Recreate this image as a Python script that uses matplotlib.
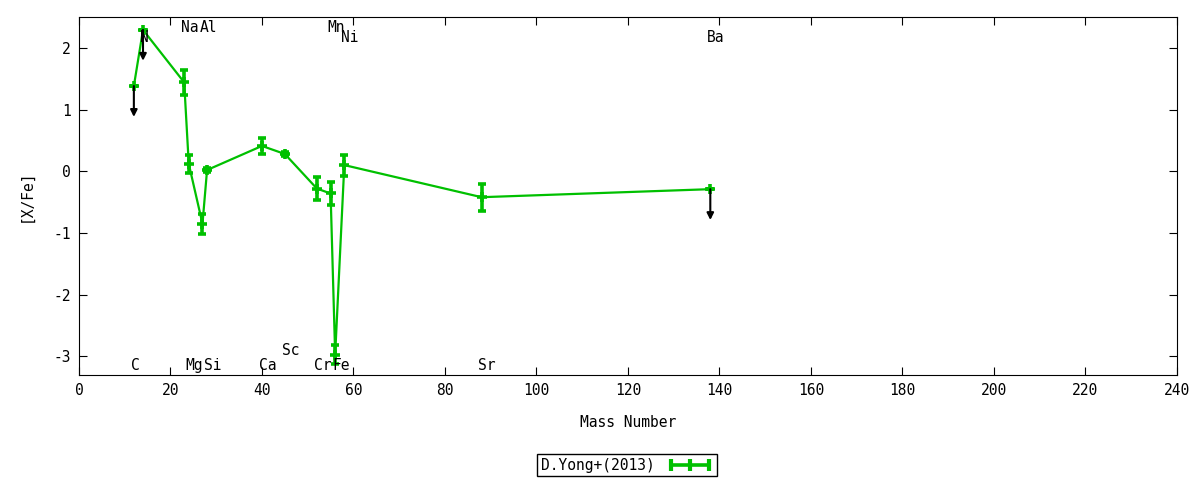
import matplotlib
matplotlib.use("Agg")
import matplotlib.pyplot as plt
from matplotlib.lines import Line2D

plt.rcParams["font.family"] = ["DejaVu Sans Mono"]
plt.rcParams["font.size"] = 10.5
plt.rcParams["axes.unicode_minus"] = False

# Abundances vs. mass number
elements = ["C", "N", "Na", "Mg", "Al", "Si", "Ca", "Sc", "Cr", "Mn", "Fe", "Ni", "Sr", "Ba"]
mass = [12, 14, 23, 24, 27, 28, 40, 45, 52, 55, 56, 58, 88, 138]
x_fe = [1.38, 2.29, 1.44, 0.12, -0.85, 0.02, 0.41, 0.28, -0.28, -0.36, -2.97, 0.10, -0.42, -0.29]
err = [0.0, 0.0, 0.2, 0.15, 0.16, 0.04, 0.13, 0.04, 0.19, 0.19, 0.15, 0.17, 0.22, 0.0]
upper_limit = ["C", "N", "Ba"]

# element labels: top or bottom of the panel
label_y = [-3.14, 2.16, 2.33, -3.14, 2.33, -3.14, -3.14, -2.91, -3.14, 2.33, -3.14, 2.16, -3.14, 2.16]

green = "#00c000"

fig = plt.figure(figsize=(12, 4.8), dpi=100)
ax = fig.add_axes([0.0658, 0.21875, 0.915, 0.746])

ax.errorbar(mass, x_fe, yerr=err, color=green, lw=1.6, marker="+", ms=7.5,
            mew=2.6, elinewidth=2.6, capsize=3.2, capthick=2.6)

# upper limits drawn as arrows
for el, m, v in zip(elements, mass, x_fe):
    if el in upper_limit:
        ax.annotate("", xy=(m, v - 0.5), xytext=(m, v),
                    arrowprops=dict(arrowstyle="-|>", color="black", lw=1.5,
                                    mutation_scale=10, shrinkA=0, shrinkB=0))

for el, m, ly in zip(elements, mass, label_y):
    ax.text(m - 0.7, ly, el, ha="left", va="center")

ax.set_xlim(0, 240)
ax.set_ylim(-3.3, 2.5)
ax.set_xticks(range(0, 241, 20))
ax.set_yticks([-3, -2, -1, 0, 1, 2])
ax.tick_params(direction="in", top=True, right=True, length=6, pad=6)
ax.set_xlabel("Mass Number", labelpad=12)
ax.set_ylabel("[X/Fe]", labelpad=14)

# gnuplot-like legend sample: line with bars at ends and middle
sample = Line2D([], [], color=green, lw=2.6, marker="|", ms=8, mew=3)
leg = fig.legend([sample], ["D.Yong+(2013)"], loc="center",
                 bbox_to_anchor=(0.5225, 0.031), markerfirst=False, numpoints=3,
                 fancybox=False, edgecolor="black", framealpha=1,
                 handlelength=3.2, borderpad=0.25)
leg.get_frame().set_linewidth(1.0)

fig.savefig("out.png", dpi=100)
